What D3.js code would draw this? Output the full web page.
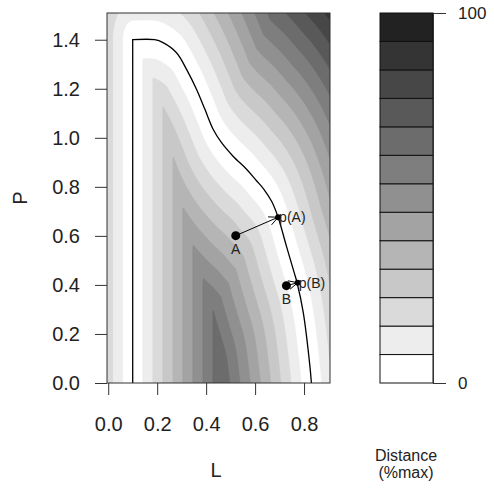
<!DOCTYPE html>
<html>
<head>
<meta charset="utf-8">
<script src="https://cdn.jsdelivr.net/npm/d3@7"></script>
<style>
  body { margin: 0; background: #fff; }
  text { font-family: "Liberation Sans", Arial, sans-serif; fill: #222; }
</style>
</head>
<body>
<svg id="chart" width="494" height="488"></svg>
<script>
// frontier (L, P)
var frontierL = [0.100, 0.100, 0.190, 0.224, 0.279, 0.320, 0.361, 0.395, 0.429, 0.463, 0.510, 0.566, 0.605, 0.636, 0.668, 0.694, 0.728, 0.760, 0.771, 0.797, 0.824, 0.830];
var frontierP = [0.000, 1.400, 1.400, 1.388, 1.347, 1.279, 1.197, 1.116, 1.034, 0.980, 0.925, 0.871, 0.826, 0.790, 0.740, 0.676, 0.558, 0.449, 0.411, 0.286, 0.068, 0.000];

// observed units and their projections
var pointNames = ["A", "B"];
var pointL = [0.521, 0.728];
var pointP = [0.601, 0.397];
var projL = [0.694, 0.774];
var projP = [0.676, 0.409];

var xTicks = [0, 0.2, 0.4, 0.6, 0.8];
var yTicks = [0, 0.2, 0.4, 0.6, 0.8, 1.0, 1.2, 1.4];
var legendTicks = [0, 100];
var nLevels = 13;
var levelGrays = [255, 237, 218, 200, 181, 163, 144, 126, 108, 89, 71, 52, 34];

// distance normalisation (frontier range in L and P), and the 100% distance
var rangeL = 0.73, rangeP = 1.4, maxDist = 0.728;

var plot = {left: 107, right: 330, top: 13, bottom: 383};

var svg = d3.select("#chart");

var x = d3.scaleLinear().domain([-0.005, 0.906]).range([plot.left, plot.right]);
var y = d3.scaleLinear().domain([0, 1.509]).range([plot.bottom, plot.top]);

var frontier = frontierL.map(function(l, i) { return [l, frontierP[i]]; });

// vertical part straight, the rest smoothed
var lineStraight = d3.line().x(function(d) { return x(d[0]); }).y(function(d) { return y(d[1]); });
var lineSmooth = d3.line().curve(d3.curveCatmullRom.alpha(0.5))
  .x(function(d) { return x(d[0]); }).y(function(d) { return y(d[1]); });
var frontierD = lineStraight(frontier.slice(0, 2)) + lineSmooth(frontier.slice(1)).replace(/^M[^CL]*/, "");

svg.append("clipPath").attr("id", "plotclip")
  .append("rect")
  .attr("x", plot.left).attr("y", plot.top)
  .attr("width", plot.right - plot.left).attr("height", plot.bottom - plot.top);

var field = svg.append("g").attr("clip-path", "url(#plotclip)");
var bandLayer = field.append("g");

var frontierPath = field.append("path")
  .attr("fill", "none")
  .attr("stroke", "#000")
  .attr("stroke-width", 1.3)
  .attr("d", frontierD);

// sample the drawn frontier into a dense polyline (data units)
var node = frontierPath.node();
var total = node.getTotalLength();
var dense = [];
for (var s = 0; s <= total; s += 1) {
  var pt = node.getPointAtLength(s);
  dense.push([x.invert(pt.x) / rangeL, y.invert(pt.y) / rangeP]);
}
var endPt = node.getPointAtLength(total);
dense.push([x.invert(endPt.x) / rangeL, y.invert(endPt.y) / rangeP]);

function segDist(px, py, ax, ay, bx, by) {
  var dx = bx - ax, dy = by - ay;
  var len = dx * dx + dy * dy;
  var t = len > 0 ? ((px - ax) * dx + (py - ay) * dy) / len : 0;
  t = Math.max(0, Math.min(1, t));
  var qx = ax + t * dx - px, qy = ay + t * dy - py;
  return Math.sqrt(qx * qx + qy * qy);
}

// grid of distances to the frontier, one cell per pixel
var nx = plot.right - plot.left, ny = plot.bottom - plot.top;
var cw = (plot.right - plot.left) / nx, ch = (plot.bottom - plot.top) / ny;
var values = new Float64Array(nx * ny);
for (var j = 0; j < ny; j++) {
  for (var i = 0; i < nx; i++) {
    var u = x.invert(plot.left + (i + 0.5) * cw) / rangeL;
    var v = y.invert(plot.top + (j + 0.5) * ch) / rangeP;
    var best = Infinity;
    for (var k = 0; k < dense.length - 1; k++) {
      var d = segDist(u, v, dense[k][0], dense[k][1], dense[k + 1][0], dense[k + 1][1]);
      if (d < best) best = d;
    }
    values[i + j * nx] = best / maxDist * 100;
  }
}

var thresholds = d3.range(nLevels).map(function(k) { return k * 100 / nLevels; });
var contours = d3.contours().size([nx, ny]).thresholds(thresholds)(values);

var gridPath = d3.geoPath(d3.geoTransform({
  point: function(px, py) { this.stream.point(plot.left + px * cw, plot.top + py * ch); }
}));

bandLayer.selectAll("path.band")
  .data(contours)
  .enter().append("path")
  .attr("class", "band")
  .attr("d", gridPath)
  .attr("fill", function(c, i) { var g = levelGrays[i]; return d3.rgb(g, g, g); })
  .attr("stroke", function(c, i) { var g = levelGrays[i]; return d3.rgb(g, g, g); })
  .attr("stroke-width", 0.4);

// arrows from units to projections
var headLen = 10, headAngle = Math.PI / 7;
pointNames.forEach(function(name, i) {
  var x0 = x(pointL[i]), y0 = y(pointP[i]), x1 = x(projL[i]), y1 = y(projP[i]);
  var ang = Math.atan2(y1 - y0, x1 - x0);
  var g = field.append("g").attr("stroke", "#000").attr("stroke-width", 1).attr("fill", "none");
  g.append("line").attr("x1", x0).attr("y1", y0).attr("x2", x1).attr("y2", y1);
  [ -headAngle, headAngle ].forEach(function(a) {
    g.append("line")
      .attr("x1", x1).attr("y1", y1)
      .attr("x2", x1 - headLen * Math.cos(ang + a))
      .attr("y2", y1 - headLen * Math.sin(ang + a));
  });
});

field.selectAll("circle.unit")
  .data(pointNames)
  .enter().append("circle")
  .attr("class", "unit")
  .attr("cx", function(d, i) { return x(pointL[i]); })
  .attr("cy", function(d, i) { return y(pointP[i]); })
  .attr("r", 4.5)
  .attr("fill", "#000");

field.selectAll("circle.proj")
  .data(pointNames)
  .enter().append("circle")
  .attr("class", "proj")
  .attr("cx", function(d, i) { return x(projL[i]); })
  .attr("cy", function(d, i) { return y(projP[i]); })
  .attr("r", 3)
  .attr("fill", "#000");

svg.selectAll("text.unitlab")
  .data(pointNames)
  .enter().append("text")
  .attr("class", "unitlab")
  .attr("x", function(d, i) { return x(pointL[i]); })
  .attr("y", function(d, i) { return y(pointP[i]) + 18; })
  .attr("text-anchor", "middle")
  .style("font-size", "14px")
  .text(function(d) { return d; });

svg.selectAll("text.projlab")
  .data(pointNames)
  .enter().append("text")
  .attr("class", "projlab")
  .attr("x", function(d, i) { return x(projL[i]) + 1; })
  .attr("y", function(d, i) { return y(projP[i]) + 5; })
  .style("font-size", "14px")
  .text(function(d) { return "p(" + d + ")"; });

// frame
svg.append("rect")
  .attr("x", plot.left).attr("y", plot.top)
  .attr("width", plot.right - plot.left).attr("height", plot.bottom - plot.top)
  .attr("fill", "none").attr("stroke", "#333").attr("stroke-width", 1);

// axes
var xAxis = svg.append("g")
  .attr("transform", "translate(0," + plot.bottom + ")")
  .call(d3.axisBottom(x).tickValues(xTicks).tickFormat(d3.format(".1f")).tickSize(12).tickPadding(22));
var yAxis = svg.append("g")
  .attr("transform", "translate(" + plot.left + ",0)")
  .call(d3.axisLeft(y).tickValues(yTicks).tickFormat(d3.format(".1f")).tickSize(12).tickPadding(15));
[xAxis, yAxis].forEach(function(a) {
  a.select(".domain").remove();
  a.selectAll(".tick line").attr("stroke", "#333");
  a.selectAll(".tick text").style("font-size", "20px").style("font-family", null).attr("fill", "#222");
});

svg.append("text")
  .attr("x", 216).attr("y", 477)
  .attr("text-anchor", "middle")
  .style("font-size", "20px")
  .text("L");
svg.append("text")
  .attr("transform", "translate(27,198) rotate(-90)")
  .attr("text-anchor", "middle")
  .style("font-size", "20px")
  .text("P");

// colour key
var key = {left: 380, right: 433, top: 13, bottom: 383};
var keyScale = d3.scaleLinear().domain([0, 100]).range([key.bottom, key.top]);

svg.selectAll("rect.key")
  .data(thresholds)
  .enter().append("rect")
  .attr("class", "key")
  .attr("x", key.left)
  .attr("width", key.right - key.left)
  .attr("y", function(t) { return keyScale(t + 100 / nLevels); })
  .attr("height", function(t) { return keyScale(t) - keyScale(t + 100 / nLevels); })
  .attr("fill", function(t, i) { var g = levelGrays[i]; return d3.rgb(g, g, g); })
  .attr("stroke", "#111")
  .attr("stroke-width", 1);

var keyAxis = svg.append("g")
  .attr("transform", "translate(" + key.right + ",0)")
  .call(d3.axisRight(keyScale).tickValues(legendTicks).tickSize(13).tickSizeOuter(0).tickPadding(12));
keyAxis.select(".domain").attr("stroke", "#333");
keyAxis.selectAll(".tick line").attr("stroke", "#333");
keyAxis.selectAll(".tick text").style("font-size", "17px").style("font-family", null).attr("fill", "#222");

svg.append("text")
  .attr("x", 406).attr("y", 461)
  .attr("text-anchor", "middle")
  .style("font-size", "16px")
  .text("Distance");
svg.append("text")
  .attr("x", 406).attr("y", 478)
  .attr("text-anchor", "middle")
  .style("font-size", "16px")
  .text("(%max)");
</script>
</body>
</html>
